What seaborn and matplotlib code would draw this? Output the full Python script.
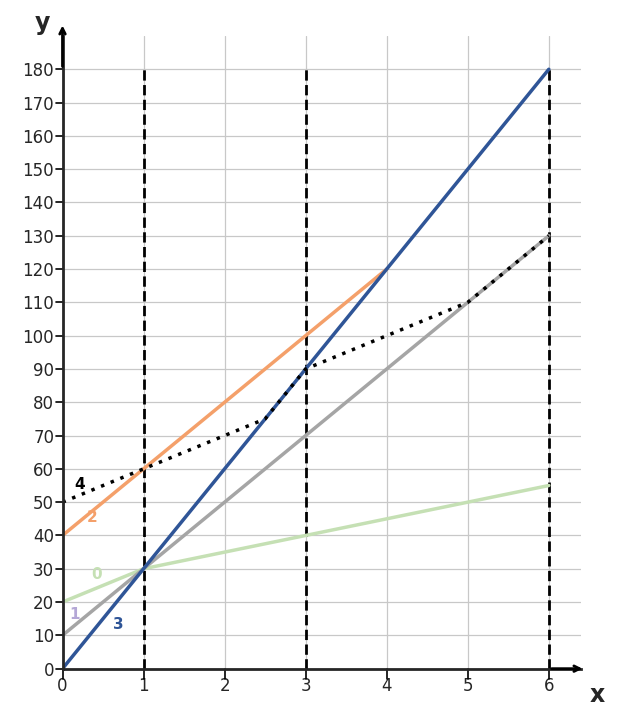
import matplotlib
matplotlib.use("Agg")
import matplotlib.pyplot as plt
import seaborn as sns

sns.set_style("white")

x0 = [0, 1, 3, 5, 6]
y0 = [20, 30, 40, 50, 55]
x1 = [0, 1, 3, 5, 6]
y1 = [10, 30, 70, 110, 130]
x2 = [0, 4]
y2 = [40, 120]
x3 = [0, 6]
y3 = [0, 180]
x4 = [0, 1, 2.5, 3, 4, 5, 6]
y4 = [50, 60, 75, 90, 100, 110, 130]
dashed_x = [1, 3, 6]

fig = plt.figure(figsize=(6.25, 7.19), dpi=100)
ax = fig.add_axes([0.1, 0.07, 0.83, 0.88])

ax.set_xlim(0, 6.4)
ax.set_ylim(0, 190)
ax.set_xticks(range(0, 7))
ax.set_yticks(range(0, 181, 10))
ax.grid(True, color="#c8c8c8", lw=0.9)
ax.tick_params(labelsize=12, length=0, pad=6)
for s in ["top", "right"]:
    ax.spines[s].set_visible(False)
ax.spines["left"].set_linewidth(2)
ax.spines["bottom"].set_linewidth(2)
for t in ax.get_xticks():
    ax.plot([t, t], [0, -3], color="black", lw=1.2, clip_on=False)
for t in ax.get_yticks():
    ax.plot([0, -0.08], [t, t], color="black", lw=1.2, clip_on=False)
ax.set_xlim(0, 6.4)
ax.set_ylim(0, 190)

ax.annotate("", xy=(6.45, 0), xytext=(6.0, 0), annotation_clip=False,
            arrowprops=dict(arrowstyle="->", lw=2, color="black"))
ax.annotate("", xy=(0, 194), xytext=(0, 180), annotation_clip=False,
            arrowprops=dict(arrowstyle="->", lw=2, color="black"))
ax.text(6.5, -8, "x", fontsize=17, fontweight="bold", ha="left", va="center")
ax.text(-0.25, 194, "y", fontsize=17, fontweight="bold", ha="center", va="center")

for xv in dashed_x:
    ax.axvline(xv, ymax=180 / 190, color="black", ls="--", lw=2)

sns.lineplot(x=x0, y=y0, ax=ax, color="#c5e0b4", lw=2.5)
sns.lineplot(x=x1, y=y1, ax=ax, color="#a5a5a5", lw=2.5)
sns.lineplot(x=x2, y=y2, ax=ax, color="#f4a06a", lw=2.5)
sns.lineplot(x=x3, y=y3, ax=ax, color="#2f5597", lw=2.5)
sns.lineplot(x=x4, y=y4, ax=ax, color="black", lw=2.5, ls=(0, (1, 2)))

ax.text(0.35, 27, "0", color="#c5e0b4", fontsize=11, fontweight="bold")
ax.text(0.08, 15, "1", color="#b4a7d6", fontsize=11, fontweight="bold")
ax.text(0.3, 44, "2", color="#f4a06a", fontsize=11, fontweight="bold")
ax.text(0.62, 12, "3", color="#2f5597", fontsize=11, fontweight="bold")
ax.text(0.15, 54, "4", color="black", fontsize=11, fontweight="bold")

fig.savefig("out.png", dpi=100)
